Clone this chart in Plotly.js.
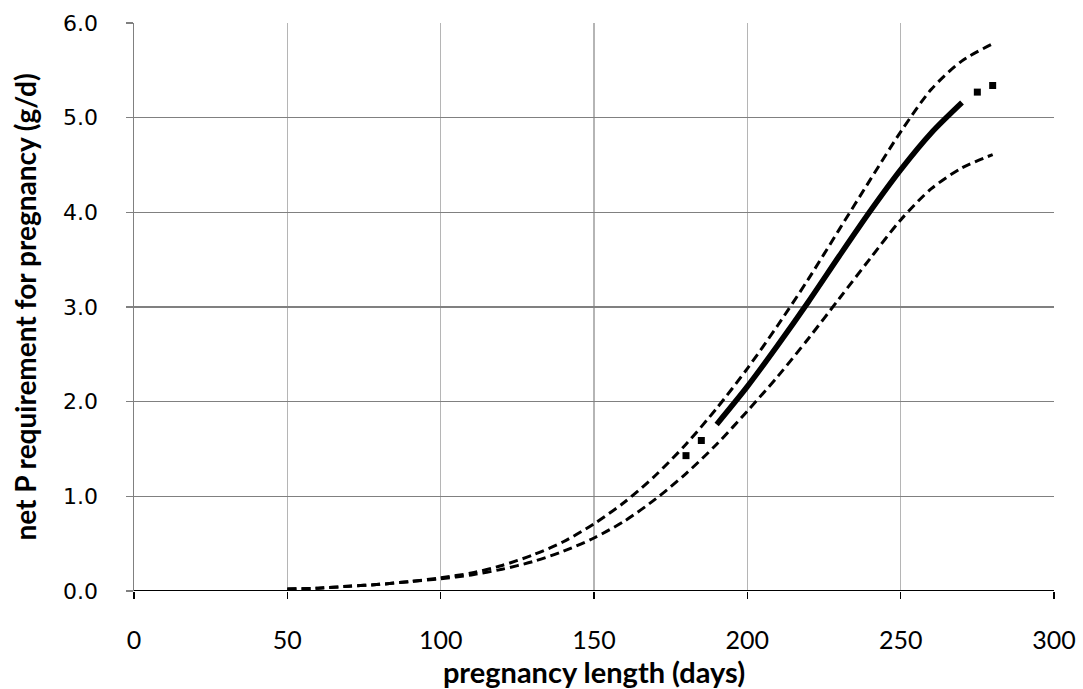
<!DOCTYPE html>
<html>
<head>
<meta charset="utf-8">
<script src="https://cdn.plot.ly/plotly-3.0.1.min.js"></script>
<style>html,body{margin:0;padding:0;background:#fff;}#chart{width:1083px;height:689px;}</style>
</head>
<body>
<div id="chart"></div>
<script>
// pregnancy length (days)
const days = [50,60,70,80,90,100,110,120,130,140,150,160,170,180,190,200,210,220,230,240,250,260,270,280];
// upper confidence band
const upper = [0.02,0.03,0.05,0.07,0.10,0.14,0.19,0.27,0.38,0.52,0.71,0.94,1.22,1.55,1.93,2.35,2.81,3.30,3.82,4.34,4.85,5.30,5.60,5.78];
// lower confidence band
const lower = [0.02,0.03,0.05,0.07,0.10,0.13,0.17,0.23,0.31,0.42,0.56,0.74,0.97,1.24,1.55,1.90,2.27,2.67,3.09,3.51,3.92,4.25,4.47,4.61];
// fitted mean curve
const meanDays = [190,200,210,220,230,240,250,260,270];
const meanVals = [1.76,2.16,2.60,3.06,3.54,4.01,4.45,4.84,5.16];
// observed points
const obsDays = [180,185,275,280];
const obsVals = [1.43,1.59,5.27,5.34];

const traces = [
  {x: days, y: upper, mode: 'lines', line: {color: '#000', width: 3, dash: '9px,5px', shape: 'spline', smoothing: 0.8}, hoverinfo: 'skip'},
  {x: days, y: lower, mode: 'lines', line: {color: '#000', width: 3, dash: '9px,5px', shape: 'spline', smoothing: 0.8}, hoverinfo: 'skip'},
  {x: meanDays, y: meanVals, mode: 'lines', line: {color: '#000', width: 5.5, shape: 'spline', smoothing: 0.8}},
  {x: obsDays, y: obsVals, mode: 'markers', marker: {symbol: 'square', size: 7, color: '#000'}}
];

const layout = {
  width: 1083, height: 689,
  margin: {l: 134, r: 29, t: 23, b: 98},
  paper_bgcolor: '#fff', plot_bgcolor: '#fff',
  showlegend: false,
  xaxis: {
    range: [0, 300], tickvals: [0,50,100,150,200,250,300], ticktext: ['0','50','100','150','200','250','300'],
    showgrid: true, gridcolor: '#b5b5b5', gridwidth: 1.3,
    zeroline: false, showline: false,
    ticks: 'outside', ticklen: 7, tickcolor: '#000', tickwidth: 1.5,
    ticklabelstandoff: 20,
    tickfont: {family: 'Lato, "Open Sans", sans-serif', size: 25, color: '#000'},
    title: {text: 'pregnancy length (days)', font: {family: 'Lato, "Open Sans", sans-serif', size: 29, color: '#000', weight: 'bold'}, standoff: 4}
  },
  yaxis: {
    range: [0, 6], tickvals: [0,1,2,3,4,5,6], ticktext: ['0.0','1.0','2.0','3.0','4.0','5.0','6.0'],
    showgrid: true, gridcolor: '#808080', gridwidth: 1.3,
    zeroline: false, showline: true, linecolor: '#808080', linewidth: 1.5,
    ticks: 'outside', ticklen: 7, tickcolor: '#808080', tickwidth: 1.5,
    ticklabelstandoff: 23,
    tickfont: {family: '"DejaVu Sans", Verdana, sans-serif', size: 22, color: '#000'},
    title: {text: 'net P requirement for pregnancy (g/d)', font: {family: 'Lato, "Open Sans", sans-serif', size: 28, color: '#000', weight: 'bold'}, standoff: 18}
  },
  shapes: [
    {type: 'line', xref: 'paper', yref: 'y', x0: 0, x1: 1, y0: 0, y1: 0, line: {color: '#000', width: 1.8}}
  ]
};

Plotly.newPlot('chart', traces, layout, {displayModeBar: false, staticPlot: true});
</script>
</body>
</html>
